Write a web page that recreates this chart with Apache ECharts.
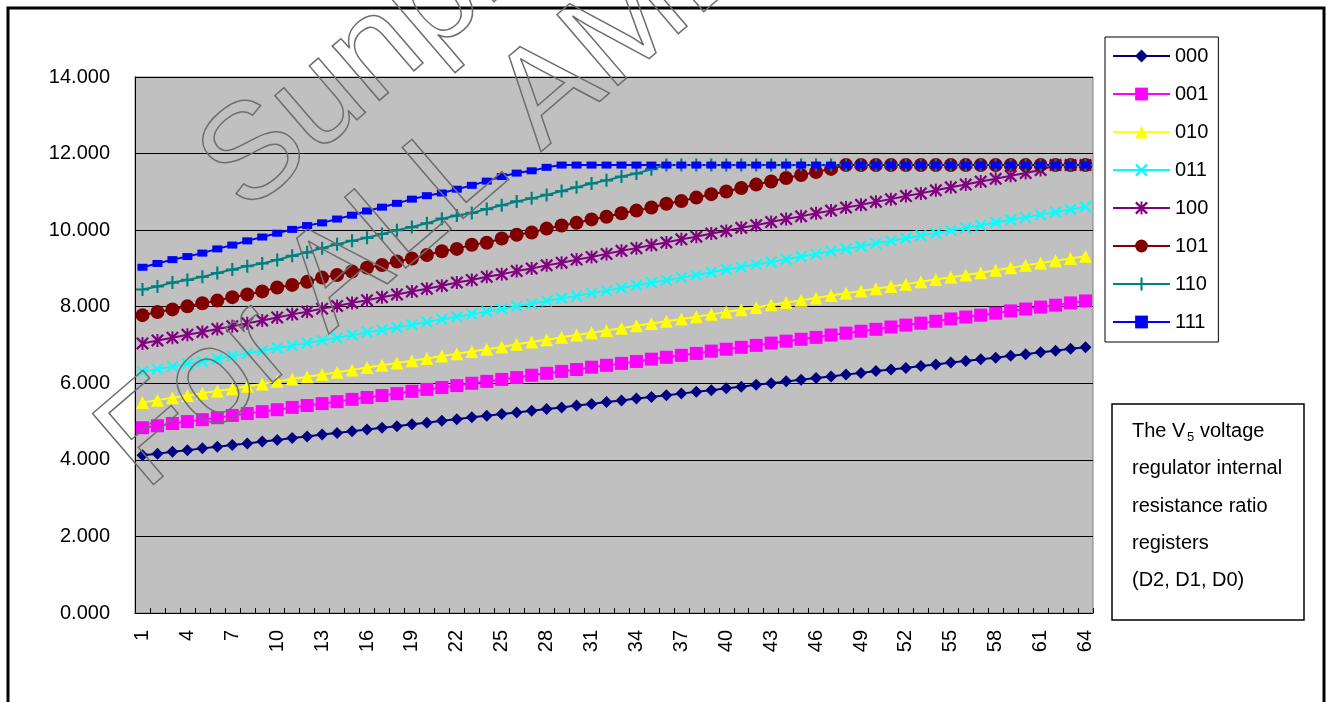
<!DOCTYPE html>
<html>
<head>
<meta charset="utf-8">
<script src="https://cdn.jsdelivr.net/npm/echarts@6/dist/echarts.min.js"></script>
<style>
html, body { margin: 0; padding: 0; background: #fff; }
#chart { width: 1331px; height: 702px; }
</style>
</head>
<body>
<div id="chart"></div>
<script>
// register index 1..64
var categories = [];
for (var i = 1; i <= 64; i++) categories.push(String(i));

var names = ['000', '001', '010', '011', '100', '101', '110', '111'];

var s000 = [4.12, 4.16, 4.21, 4.25, 4.30, 4.34, 4.39, 4.43, 4.48, 4.52,
    4.57, 4.61, 4.66, 4.70, 4.75, 4.79, 4.84, 4.88, 4.93, 4.97,
    5.02, 5.06, 5.11, 5.15, 5.20, 5.24, 5.28, 5.33, 5.37, 5.42,
    5.46, 5.51, 5.55, 5.60, 5.64, 5.69, 5.73, 5.78, 5.82, 5.87,
    5.91, 5.96, 6.00, 6.05, 6.09, 6.14, 6.18, 6.23, 6.27, 6.32,
    6.36, 6.40, 6.45, 6.49, 6.54, 6.58, 6.63, 6.67, 6.72, 6.76,
    6.81, 6.85, 6.90, 6.94];
var s001 = [4.84, 4.89, 4.95, 5.00, 5.05, 5.10, 5.16, 5.21, 5.26, 5.31,
    5.37, 5.42, 5.47, 5.52, 5.58, 5.63, 5.68, 5.73, 5.79, 5.84,
    5.89, 5.94, 6.00, 6.05, 6.10, 6.15, 6.21, 6.26, 6.31, 6.36,
    6.42, 6.47, 6.52, 6.57, 6.63, 6.68, 6.73, 6.78, 6.84, 6.89,
    6.94, 6.99, 7.05, 7.10, 7.15, 7.20, 7.26, 7.31, 7.36, 7.41,
    7.47, 7.52, 7.57, 7.62, 7.68, 7.73, 7.78, 7.83, 7.89, 7.94,
    7.99, 8.04, 8.10, 8.15];
var s010 = [5.50, 5.56, 5.62, 5.68, 5.74, 5.80, 5.86, 5.92, 5.98, 6.05,
    6.11, 6.17, 6.23, 6.29, 6.35, 6.41, 6.47, 6.53, 6.59, 6.65,
    6.71, 6.77, 6.83, 6.89, 6.95, 7.02, 7.08, 7.14, 7.20, 7.26,
    7.32, 7.38, 7.44, 7.50, 7.56, 7.62, 7.68, 7.74, 7.80, 7.86,
    7.92, 7.98, 8.05, 8.11, 8.17, 8.23, 8.29, 8.35, 8.41, 8.47,
    8.53, 8.59, 8.65, 8.71, 8.77, 8.83, 8.89, 8.95, 9.02, 9.08,
    9.14, 9.20, 9.26, 9.32];
var s011 = [6.30, 6.37, 6.44, 6.51, 6.57, 6.64, 6.71, 6.78, 6.85, 6.92,
    6.98, 7.05, 7.12, 7.19, 7.26, 7.33, 7.39, 7.46, 7.53, 7.60,
    7.67, 7.74, 7.80, 7.87, 7.94, 8.01, 8.08, 8.15, 8.22, 8.28,
    8.35, 8.42, 8.49, 8.56, 8.63, 8.69, 8.76, 8.83, 8.90, 8.97,
    9.04, 9.10, 9.17, 9.24, 9.31, 9.38, 9.45, 9.51, 9.58, 9.65,
    9.72, 9.79, 9.86, 9.92, 9.99, 10.06, 10.13, 10.20, 10.27, 10.33,
    10.40, 10.47, 10.54, 10.61];
var s100 = [7.04, 7.12, 7.19, 7.27, 7.34, 7.42, 7.49, 7.57, 7.64, 7.72,
    7.80, 7.87, 7.95, 8.02, 8.10, 8.17, 8.25, 8.32, 8.40, 8.47,
    8.55, 8.63, 8.70, 8.78, 8.85, 8.93, 9.00, 9.08, 9.15, 9.23,
    9.30, 9.38, 9.46, 9.53, 9.61, 9.68, 9.76, 9.83, 9.91, 9.98,
    10.06, 10.13, 10.21, 10.29, 10.36, 10.44, 10.51, 10.59, 10.66, 10.74,
    10.81, 10.89, 10.96, 11.04, 11.12, 11.19, 11.27, 11.34, 11.42, 11.49,
    11.57, 11.70, 11.70, 11.70];
var s101 = [7.78, 7.86, 7.93, 8.01, 8.09, 8.16, 8.25, 8.32, 8.40, 8.50,
    8.57, 8.65, 8.76, 8.83, 8.92, 9.02, 9.09, 9.18, 9.26, 9.35,
    9.45, 9.51, 9.62, 9.67, 9.78, 9.88, 9.94, 10.04, 10.12, 10.19,
    10.28, 10.35, 10.44, 10.51, 10.59, 10.69, 10.76, 10.85, 10.94, 11.01,
    11.10, 11.19, 11.27, 11.36, 11.44, 11.52, 11.60, 11.70, 11.70, 11.70,
    11.70, 11.70, 11.70, 11.70, 11.70, 11.70, 11.70, 11.70, 11.70, 11.70,
    11.70, 11.70, 11.70, 11.70];
var s110 = [8.45, 8.53, 8.63, 8.70, 8.78, 8.88, 8.97, 9.06, 9.13, 9.22,
    9.33, 9.42, 9.53, 9.63, 9.72, 9.80, 9.90, 10.00, 10.08, 10.18,
    10.30, 10.38, 10.45, 10.55, 10.65, 10.75, 10.83, 10.92, 11.02, 11.12,
    11.22, 11.30, 11.40, 11.48, 11.59, 11.70, 11.70, 11.70, 11.70, 11.70,
    11.70, 11.70, 11.70, 11.70, 11.70, 11.70, 11.70, 11.70, 11.70, 11.70,
    11.70, 11.70, 11.70, 11.70, 11.70, 11.70, 11.70, 11.70, 11.70, 11.70,
    11.70, 11.70, 11.70, 11.70];
var s111 = [9.03, 9.13, 9.23, 9.31, 9.40, 9.51, 9.61, 9.72, 9.82, 9.92,
    10.02, 10.12, 10.19, 10.29, 10.39, 10.50, 10.60, 10.70, 10.81, 10.90,
    10.97, 11.07, 11.17, 11.28, 11.40, 11.49, 11.55, 11.64, 11.70, 11.70,
    11.70, 11.70, 11.70, 11.70, 11.70, 11.70, 11.70, 11.70, 11.70, 11.70,
    11.70, 11.70, 11.70, 11.70, 11.70, 11.70, 11.70, 11.70, 11.70, 11.70,
    11.70, 11.70, 11.70, 11.70, 11.70, 11.70, 11.70, 11.70, 11.70, 11.70,
    11.70, 11.70, 11.70, 11.70];

var font = 'Liberation Sans, Arial, sans-serif';

// excel style marker shapes
var crossX = 'path://M0,1.5L1.5,0L6,4.5L10.5,0L12,1.5L7.5,6L12,10.5L10.5,12L6,7.5L1.5,12L0,10.5L4.5,6Z';
var star = 'path://M0,1.5L1.5,0L6,4.5L10.5,0L12,1.5L7.5,6L12,10.5L10.5,12L6,7.5L1.5,12L0,10.5L4.5,6Z M5.1,0L6.9,0L6.9,12L5.1,12Z';
var plus = 'path://M5,0L7,0L7,5L12,5L12,7L7,7L7,12L5,12L5,7L0,7L0,5L5,5Z';

var styles = [
    {color: '#000080', symbol: 'diamond', size: 12},
    {color: '#ff00ff', symbol: 'rect', size: 13},
    {color: '#ffff00', symbol: 'triangle', size: 13},
    {color: '#00ffff', symbol: crossX, size: 12},
    {color: '#800080', symbol: star, size: 13},
    {color: '#800000', symbol: 'circle', size: 14},
    {color: '#008080', symbol: plus, size: 13},
    {color: '#0000ff', symbol: 'rect', size: [10, 7]}
];
var values = [s000, s001, s010, s011, s100, s101, s110, s111];

var series = [];
for (var j = 0; j < names.length; j++) {
    series.push({
        name: names[j],
        type: 'line',
        data: values[j],
        symbol: styles[j].symbol,
        symbolSize: styles[j].size,
        showAllSymbol: true,
        lineStyle: {color: styles[j].color, width: 2},
        itemStyle: {color: styles[j].color, borderWidth: 0, opacity: 1},
        emphasis: {disabled: true}
    });
}

var chart = echarts.init(document.getElementById('chart'));
option = {
    animation: false,
    backgroundColor: '#fff',
    grid: {
        left: 135, right: 238, top: 77, bottom: 89,
        containLabel: false,
        outerBoundsMode: 'none',
        show: true,
        backgroundColor: '#c0c0c0',
        borderColor: '#808080',
        borderWidth: 1
    },
    legend: {
        orient: 'vertical',
        left: 1105,
        top: 37,
        itemWidth: 57,
        itemHeight: 16,
        itemGap: 18,
        padding: [9, 10, 10, 7],
        borderColor: '#000',
        borderWidth: 1,
        backgroundColor: '#fff',
        data: names,
        textStyle: {fontSize: 20, color: '#000', fontFamily: font}
    },
    xAxis: [{
        type: 'category',
        data: categories,
        boundaryGap: true,
        axisLine: {lineStyle: {color: '#000', width: 1}},
        axisTick: {show: true, inside: true, length: 5, interval: 0, lineStyle: {color: '#000'}},
        axisLabel: {interval: 2, rotate: 90, margin: 17, fontSize: 20, color: '#000', fontFamily: font},
        splitLine: {show: false}
    }],
    yAxis: [{
        type: 'value',
        min: 0,
        max: 14,
        interval: 2,
        axisLine: {show: true, lineStyle: {color: '#000', width: 1}},
        axisTick: {show: true, inside: true, length: 6, lineStyle: {color: '#000'}},
        axisLabel: {margin: 25, fontSize: 20, color: '#000', fontFamily: font,
            formatter: function (v) { return v.toFixed(3); }},
        splitLine: {show: true, lineStyle: {color: '#000', width: 1}}
    }],
    graphic: [
        // outer frame
        {type: 'rect', shape: {x: 8, y: 8, width: 1316, height: 760}, style: {fill: 'none', stroke: '#000', lineWidth: 3}, z: 100},
        // note box
        {type: 'rect', shape: {x: 1112, y: 404, width: 192, height: 216}, style: {fill: '#fff', stroke: '#000', lineWidth: 1.5}, z: 100},
        {type: 'text', x: 1132, y: 431, z: 101, style: {text: 'The V', fontSize: 20, fontFamily: font, fill: '#000', verticalAlign: 'middle'}},
        {type: 'text', x: 1187, y: 437, z: 101, style: {text: '5', fontSize: 13, fontFamily: font, fill: '#000', verticalAlign: 'middle'}},
        {type: 'text', x: 1200, y: 431, z: 101, style: {text: 'voltage', fontSize: 20, fontFamily: font, fill: '#000', verticalAlign: 'middle'}},
        {type: 'text', x: 1132, y: 468, z: 101, style: {text: 'regulator internal', fontSize: 20, fontFamily: font, fill: '#000', verticalAlign: 'middle'}},
        {type: 'text', x: 1132, y: 506, z: 101, style: {text: 'resistance ratio', fontSize: 20, fontFamily: font, fill: '#000', verticalAlign: 'middle'}},
        {type: 'text', x: 1132, y: 543, z: 101, style: {text: 'registers', fontSize: 20, fontFamily: font, fill: '#000', verticalAlign: 'middle'}},
        {type: 'text', x: 1132, y: 580, z: 101, style: {text: '(D2, D1, D0)', fontSize: 20, fontFamily: font, fill: '#000', verticalAlign: 'middle'}},
        // watermark
        {type: 'text', x: 266, y: 238, rotation: 0.71, z: 120, silent: true,
            style: {text: 'Sunplus', fontSize: 136, fontFamily: font, fill: 'none', stroke: '#6e6e6e', lineWidth: 1.5, verticalAlign: 'bottom'}},
        {type: 'text', x: 165, y: 515, rotation: 0.71, z: 120, silent: true,
            style: {text: 'For ALL AMEN', fontSize: 136, fontFamily: font, fill: 'none', stroke: '#6e6e6e', lineWidth: 1.5, verticalAlign: 'bottom'}}
    ],
    series: series
};
chart.setOption(option);
</script>
</body>
</html>
